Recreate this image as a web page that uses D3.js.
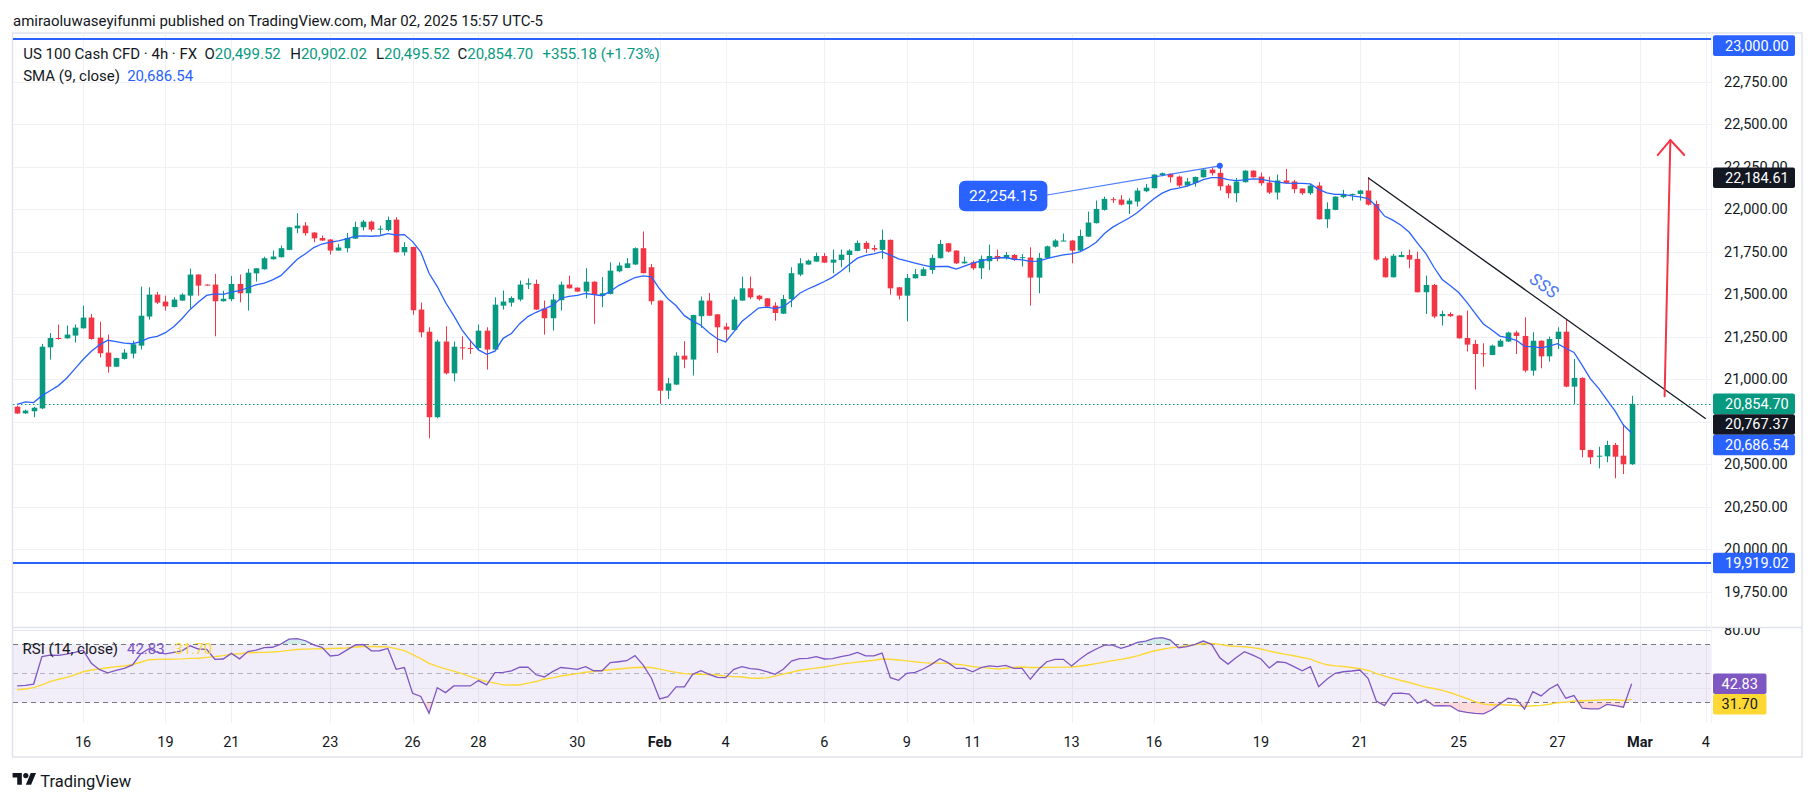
<!DOCTYPE html>
<html><head><meta charset="utf-8">
<script src="https://cdn.jsdelivr.net/npm/d3@7"></script>
<style>
html,body{margin:0;padding:0;background:#fff;}
svg{display:block;font-family:Roboto,"Noto Sans",sans-serif;}
</style></head><body>
<svg id="chart" width="1815" height="802"></svg>
<script>
// ---------------- DATA ----------------
const opens = [20838,20799,20811,20828,21187,21242,21240,21256,21299,21362,21244,21156,21073,21119,21150,21197,21368,21497,21456,21424,21462,21491,21615,21556,21556,21458,21470,21560,21505,21622,21646,21705,21717,21760,21887,21903,21862,21830,21821,21756,21770,21826,21893,21926,21879,21877,21938,21746,21777,21409,21279,20776,21221,21034,21187,21183,21183,21285,21174,21432,21450,21468,21556,21560,21415,21358,21464,21556,21538,21515,21573,
21490,21501,21634,21654,21674,21770,21658,21462,20932,20968,21138,21115,21370,21462,21381,21309,21289,21462,21534,21491,21475,21432,21385,21470,21615,21674,21691,21724,21685,21701,21730,21754,21801,21771,21760,21819,21540,21491,21593,21607,21642,21711,21799,21756,21681,21687,21652,21693,21724,21711,21730,21713,21715,21597,21713,21779,21813,21815,21756,21838,21917,21995,22058,22056,22028,22044,22105,22123,22199,22207,22191,22138,22154,
22187,22232,22213,22138,22093,22158,22226,22191,22156,22097,22168,22162,22121,22093,22138,21940,21995,22070,22085,22089,22109,22030,21711,21599,21718,21730,21707,21511,21554,21370,21383,21374,21242,21207,21152,21142,21191,21221,21274,21254,21050,21226,21134,21236,21279,20956,21007,20583,20544,20546,20613,20550,20499.52];
const highs = [20844,20821,20838,21207,21271,21321,21315,21321,21432,21383,21338,21262,21126,21177,21226,21544,21540,21513,21491,21481,21505,21650,21617,21558,21619,21520,21607,21615,21648,21652,21720,21756,21785,21895,21976,21923,21864,21844,21824,21795,21860,21926,21936,21932,21903,21956,21952,21805,21779,21450,21305,21232,21311,21221,21252,21232,21321,21305,21481,21521,21487,21580,21593,21585,21462,21501,21573,21609,21540,21652,21575,
21600,21687,21687,21711,21775,21868,21677,21464,21007,21158,21223,21379,21485,21507,21383,21330,21485,21603,21603,21495,21477,21452,21495,21658,21711,21703,21744,21742,21762,21762,21764,21815,21811,21789,21879,21821,21542,21619,21648,21658,21732,21819,21801,21758,21720,21697,21727,21791,21762,21748,21736,21736,21775,21742,21785,21823,21856,21819,21879,21985,22050,22073,22070,22083,22064,22124,22148,22205,22215,22209,22197,22183,22191,
22236,22244,22254.15,22148,22183,22228,22228,22215,22191,22203,22236,22172,22123,22148,22158,22040,22075,22113,22091,22113,22187,22050,21721,21736,21750,21762,21750,21609,21560,21403,21393,21376,21403,21230,21211,21203,21236,21279,21285,21364,21276,21228,21250,21305,21348,21119,21011,20585,20603,20638,20625,20736,20902.02];
const lows = [20795,20795,20776,20824,21115,21232,21238,21215,21297,21232,21128,21038,21071,21115,21122,21174,21350,21442,21403,21422,21460,21417,21491,21550,21252,21456,21458,21452,21403,21574,21644,21703,21715,21758,21858,21844,21805,21813,21732,21754,21746,21824,21874,21868,21850,21869,21744,21727,21379,21246,20652,20770,21027,20987,21115,21148,21172,21056,21172,21409,21427,21458,21530,21407,21262,21285,21403,21532,21513,21475,21325,
21423,21499,21628,21652,21672,21621,21438,20854,20883,20966,21064,21021,21301,21371,21154,21225,21287,21460,21471,21462,21424,21344,21383,21423,21605,21672,21689,21683,21623,21658,21628,21752,21742,21750,21707,21497,21468,21340,21591,21605,21619,21709,21744,21677,21679,21642,21589,21642,21693,21703,21695,21662,21432,21505,21711,21774,21811,21681,21754,21836,21915,21991,22036,22021,21971,22015,22099,22121,22193,22156,22128,22132,22132,
22185,22197,22109,22064,22040,22156,22185,22138,22089,22056,22148,22093,22083,22083,21938,21889,21993,22064,22050,22050,22021,21697,21597,21597,21717,21652,21509,21383,21358,21315,21366,21238,21162,20938,21073,21140,21189,21219,21148,21040,21020,21064,21103,21177,20952,20854,20540,20501,20475,20511,20417,20442,20495.52];
const closes = [20798,20815,20832,21191,21242,21236,21262,21303,21362,21236,21152,21073,21124,21156,21205,21373,21497,21450,21428,21468,21497,21615,21550,21552,21458,21473,21560,21505,21626,21652,21711,21721,21770,21893,21903,21858,21828,21815,21756,21774,21830,21895,21926,21879,21885,21936,21746,21777,21405,21275,20776,21221,21034,21191,21181,21179,21285,21174,21438,21456,21477,21556,21564,21409,21358,21468,21556,21534,21515,21573,21495,
21505,21638,21668,21681,21770,21623,21458,20932,20975,21138,21115,21377,21462,21373,21305,21291,21468,21534,21481,21470,21426,21389,21471,21623,21681,21697,21724,21685,21703,21732,21756,21801,21766,21762,21819,21534,21491,21595,21617,21646,21713,21795,21750,21681,21691,21652,21707,21724,21707,21730,21703,21717,21597,21713,21781,21815,21815,21756,21842,21921,22001,22060,22054,22026,22050,22109,22126,22203,22211,22187,22138,22162,22189,
22232,22211,22134,22093,22162,22226,22187,22152,22097,22168,22154,22117,22093,22138,21940,22001,22073,22089,22089,22109,22026,21703,21599,21726,21730,21703,21511,21554,21368,21383,21370,21240,21203,21148,21146,21197,21226,21274,21254,21050,21226,21134,21236,21279,20956,21007,20583,20540,20550,20613,20544,20499.52,20854.70];
// SMA(9) values of the first bars (their history lies left of the chart)
const smaHead = [20852,20866,20862,20903,20932,20962,21005,21060];
const smaLast = 20686.54;
// RSI(14) per bar
const rsi = [41.3,41.7,42.6,61.5,62.6,62.4,63.3,64.5,66.0,57.0,52.5,50.3,52.0,53.4,55.8,63.5,67.0,64.5,63.4,64.5,65.5,69.0,66.8,66.5,59.7,59.9,63.8,60.0,65.0,66.0,67.7,68.0,70.2,73.6,74.0,72.5,69.6,68.0,62.0,62.6,66.0,69.5,69.9,65.5,65.6,67.2,52.8,54.0,36.2,34.0,22.5,40.1,36.7,41.3,41.3,41.3,45.0,42.0,50.5,50.6,51.7,54.2,54.3,49.0,47.5,51.2,54.0,53.4,52.8,54.6,51.8,
51.8,57.4,58.0,58.7,62.2,55.7,46.6,32.3,33.9,40.6,40.6,49.3,51.8,49.3,47.2,47.0,52.8,54.6,53.2,52.8,51.1,49.3,52.8,58.5,60.1,60.3,61.5,59.9,60.1,61.5,62.6,64.5,62.0,62.0,64.0,47.0,45.2,50.0,50.7,53.0,56.2,60.1,57.4,53.4,53.4,51.1,53.9,55.1,54.6,55.5,53.4,53.4,45.9,52.8,58.0,59.7,59.7,55.1,59.7,63.8,66.8,69.5,69.5,67.2,69.0,71.4,72.3,74.1,74.6,73.0,67.7,68.4,70.0,
72.3,70.0,60.8,56.4,61.0,64.9,62.6,59.9,53.7,58.0,57.4,54.6,51.8,54.6,40.8,45.9,50.0,51.1,51.6,52.3,46.6,30.9,27.7,36.2,36.4,35.7,29.3,31.8,27.5,27.7,27.5,24.0,23.1,22.4,22.0,24.7,28.9,32.8,32.1,25.4,37.4,34.4,39.2,42.4,32.8,34.6,25.9,25.4,25.4,28.6,27.7,26.6,42.83];
// RSI-based MA(14) of the first bars
const rsiMaHead = [38.7,39.2,40.1,42.0,44.3,45.9,47.2,48.9,51.1,52.3,53.0,53.9,54.6];
const rsiMaLast = 31.70;
// time axis
const timeLabels = ["16","19","21","23","26","28","30","Feb","4","6","9","11","13","16","19","21","25","27","Mar","4"];
const timeBars   = [8,18,26,38,48,56,68,78,86,98,108,116,128,138,151,163,175,187,197,205];
const boldLabels = ["Feb","Mar"];
// price axis
const priceTicks = [19750,20000,20250,20500,20750,21000,21250,21500,21750,22000,22250,22500,22750];
const levelPrices = [23000, 19919.02];
// drawings
const trendBars = [164, 205];
const trendPrices = [22184.61, 20767.37];
const noteBar = 146, notePrice = 22254.15, noteLabelBar = 119.7, noteLabelPrice = 22077;
const arrowBars = [200, 200.7];
const arrowPrices = [20900, 22406];
const sssBar = 185.3, sssPrice = 21543;
const rsiLevels = [70, 50, 30];
const rsiGrid = [40, 80];

// ---------------- LAYOUT ----------------
const Lft = 13, Rgt = 1711, mTop = 33, mBot = 627, rBot = 723, fRight = 1802, fBot = 757, axX = 1724;
const svg = d3.select("#chart");
const fmt = d3.format(",.2f");
const N = closes.length;
const x = d3.scaleLinear().domain([0, N - 1]).range([17.2, 17.2 + (N - 1) * 8.237]);
const y = d3.scaleLinear().domain([19542.6, 23035.3]).range([mBot, mTop]);
const yr = d3.scaleLinear().domain([15.5, 81.3]).range([723.3, 628]);

const sma = closes.map((c, i) => i < 8 ? smaHead[i] : d3.mean(closes.slice(i - 8, i + 1)));
const rsiMa = rsi.map((v, i) => i < 13 ? rsiMaHead[i] : d3.mean(rsi.slice(i - 13, i + 1)));

const defs = svg.append("defs");
defs.append("clipPath").attr("id", "cm").append("rect").attr("x", Lft).attr("y", mTop).attr("width", Rgt - Lft).attr("height", mBot - mTop);
defs.append("clipPath").attr("id", "cr").append("rect").attr("x", Lft).attr("y", mBot + 1).attr("width", Rgt - Lft).attr("height", rBot - mBot - 1);
defs.append("clipPath").attr("id", "cob").append("rect").attr("x", Lft).attr("y", mBot).attr("width", Rgt - Lft).attr("height", yr(70) - mBot);
defs.append("clipPath").attr("id", "cos").append("rect").attr("x", Lft).attr("y", yr(30)).attr("width", Rgt - Lft).attr("height", rBot - yr(30));
defs.append("clipPath").attr("id", "cax").append("rect").attr("x", Rgt).attr("y", mBot + 1).attr("width", fRight - Rgt).attr("height", rBot - mBot);

// header
svg.append("text").attr("x", 13).attr("y", 25.5).attr("font-size", 15).attr("fill", "#131722")
  .text("amiraoluwaseyifunmi published on TradingView.com, Mar 02, 2025 15:57 UTC-5");

// frame
svg.append("rect").attr("x", 12.5).attr("y", 33).attr("width", fRight - 12.5).attr("height", fBot - 33)
  .attr("fill", "#fff").attr("stroke", "#e0e3eb").attr("stroke-width", 1.5);

// vertical grid
svg.append("g").selectAll("line").data(timeBars).join("line")
  .attr("x1", d => Math.round(x(d)) + 0.5).attr("x2", d => Math.round(x(d)) + 0.5)
  .attr("y1", mTop).attr("y2", rBot).attr("stroke", "#eff1f5").attr("stroke-width", 1);
// horizontal grid (main)
svg.append("g").selectAll("line").data(priceTicks).join("line")
  .attr("x1", Lft).attr("x2", Rgt).attr("y1", d => Math.round(y(d)) + 0.5).attr("y2", d => Math.round(y(d)) + 0.5)
  .attr("stroke", "#eff1f5");

// pane separator + axis separator
svg.append("line").attr("x1", 12.5).attr("x2", fRight).attr("y1", mBot + 0.5).attr("y2", mBot + 0.5).attr("stroke", "#e0e3eb").attr("stroke-width", 1.5);
svg.append("line").attr("x1", Rgt + 0.5).attr("x2", Rgt + 0.5).attr("y1", mTop).attr("y2", rBot).attr("stroke", "#f0f3fa");

// ---- main pane ----
const gm = svg.append("g").attr("clip-path", "url(#cm)");
// level lines
gm.selectAll("line.lv").data(levelPrices).join("line").attr("class", "lv")
  .attr("x1", Lft).attr("x2", Rgt).attr("y1", d => y(d)).attr("y2", d => y(d))
  .attr("stroke", "#2962ff").attr("stroke-width", 2);
// last close dotted line
gm.append("line").attr("x1", Lft).attr("x2", Rgt).attr("y1", Math.round(y(closes[N - 1])) + 0.5).attr("y2", Math.round(y(closes[N - 1])) + 0.5)
  .attr("stroke", "#089981").attr("stroke-dasharray", "1.5,2.5").attr("stroke-width", 1.2);
// candles
const bars = d3.range(N);
const col = i => closes[i] >= opens[i] ? "#089981" : "#f23645";
gm.append("g").selectAll("line").data(bars).join("line")
  .attr("x1", i => Math.round(x(i)) + 0.5).attr("x2", i => Math.round(x(i)) + 0.5)
  .attr("y1", i => y(Math.max(highs[i], opens[i], closes[i]))).attr("y2", i => y(Math.min(lows[i], opens[i], closes[i])))
  .attr("stroke", col).attr("stroke-width", 1);
gm.append("g").selectAll("rect").data(bars).join("rect")
  .attr("x", i => Math.round(x(i)) - 2.3).attr("width", 5.6)
  .attr("y", i => y(Math.max(opens[i], closes[i])))
  .attr("height", i => Math.max(1, Math.abs(y(opens[i]) - y(closes[i]))))
  .attr("fill", col);
// SMA
gm.append("path").datum(bars).attr("fill", "none").attr("stroke", "#2962ff").attr("stroke-width", 1.3)
  .attr("d", d3.line().x(i => x(i)).y(i => y(sma[i])));
// trend line
gm.append("line").attr("x1", x(trendBars[0])).attr("y1", y(trendPrices[0])).attr("x2", x(trendBars[1])).attr("y2", y(trendPrices[1]))
  .attr("stroke", "#131722").attr("stroke-width", 1.3);
// note callout
const nx = x(noteLabelBar), ny = y(noteLabelPrice);
gm.append("line").attr("x1", nx + 44).attr("y1", ny - 1).attr("x2", x(noteBar)).attr("y2", y(notePrice))
  .attr("stroke", "#2962ff").attr("stroke-width", 1.2).attr("opacity", 0.85);
gm.append("circle").attr("cx", x(noteBar)).attr("cy", y(notePrice)).attr("r", 3).attr("fill", "#2962ff");
gm.append("rect").attr("x", nx - 44.2).attr("y", ny - 15.2).attr("width", 88.4).attr("height", 30.4).attr("rx", 6).attr("fill", "#2962ff");
gm.append("text").attr("x", nx).attr("y", ny + 5.5).attr("text-anchor", "middle").attr("font-size", 15.5).attr("fill", "#fff").text(fmt(notePrice));
// SSS text
const ang = Math.atan2(y(trendPrices[1]) - y(trendPrices[0]), x(trendBars[1]) - x(trendBars[0])) * 180 / Math.PI;
gm.append("text").attr("transform", `translate(${x(sssBar)},${y(sssPrice)}) rotate(${ang})`)
  .attr("text-anchor", "middle").attr("dominant-baseline", "middle").attr("font-size", 17).attr("font-style", "italic")
  .attr("letter-spacing", 0.5).attr("fill", "#4a78f5").text("SSS");
// red arrow
const ax1 = x(arrowBars[0]), ay1 = y(arrowPrices[0]), ax2 = x(arrowBars[1]), ay2 = y(arrowPrices[1]);
gm.append("line").attr("x1", ax1).attr("y1", ay1).attr("x2", ax2).attr("y2", ay2).attr("stroke", "#f23645").attr("stroke-width", 2).attr("stroke-linecap", "round");
gm.append("path").attr("d", `M${ax2 - 12.7},${ay2 + 15} L${ax2},${ay2} L${ax2 + 13.9},${ay2 + 15}`)
  .attr("fill", "none").attr("stroke", "#f23645").attr("stroke-width", 2).attr("stroke-linecap", "round").attr("stroke-linejoin", "round");

// legends
const lg = svg.append("g").attr("font-size", 15);
const ohlc = lg.append("text").attr("y", 58.5).attr("fill", "#131722");
ohlc.append("tspan").attr("x", 23.2).text("US 100 Cash CFD · 4h · FX");
const lab = [["O", opens[N - 1], 204.5], ["H", highs[N - 1], 290.2], ["L", lows[N - 1], 375.9], ["C", closes[N - 1], 457.6]];
lab.forEach(([k, v, px]) => {
  ohlc.append("tspan").attr("x", px).attr("fill", "#131722").text(k);
  ohlc.append("tspan").attr("fill", "#089981").text(fmt(v));
});
const chg = closes[N - 1] - opens[N - 1];
ohlc.append("tspan").attr("x", 542.4).attr("fill", "#089981").text(`+${fmt(chg)} (+${(chg / opens[N - 1] * 100).toFixed(2)}%)`);
const sl = lg.append("text").attr("y", 80.5).attr("fill", "#131722");
sl.append("tspan").attr("x", 23.2).text("SMA (9, close)");
sl.append("tspan").attr("x", 127.2).attr("fill", "#2962ff").text(fmt(smaLast));

// price axis labels
svg.append("g").selectAll("text").data(priceTicks).join("text")
  .attr("x", axX).attr("y", d => y(d) + 5).attr("font-size", 14.5).attr("fill", "#131722").text(d => fmt(d));

// badges
const badgeH = 20.6;
function badges(list, w, top) {
  list.sort((a, b) => a.yy - b.yy);
  let prev = top;
  list.forEach(b => {
    let t = Math.max(b.yy - badgeH / 2, prev);
    b.t = t; prev = t + badgeH;
  });
  const g = svg.append("g");
  list.forEach(b => {
    g.append("rect").attr("x", 1713).attr("y", b.t).attr("width", w).attr("height", badgeH).attr("rx", 2).attr("fill", b.bg);
    g.append("text").attr("x", axX + 1).attr("y", b.t + badgeH / 2 + 5).attr("font-size", 14.5).attr("fill", b.fg).text(b.txt);
  });
}
badges([
  {yy: y(levelPrices[0]), bg: "#2962ff", fg: "#fff", txt: fmt(levelPrices[0])},
  {yy: y(trendPrices[0]), bg: "#131722", fg: "#fff", txt: fmt(trendPrices[0])},
  {yy: y(closes[N - 1]), bg: "#089981", fg: "#fff", txt: fmt(closes[N - 1])},
  {yy: y(trendPrices[1]), bg: "#131722", fg: "#fff", txt: fmt(trendPrices[1])},
  {yy: y(smaLast), bg: "#2962ff", fg: "#fff", txt: fmt(smaLast)},
  {yy: y(levelPrices[1]), bg: "#2962ff", fg: "#fff", txt: fmt(levelPrices[1])}
], 82, mTop + 2.3);

// ---- RSI pane ----
const gr = svg.append("g").attr("clip-path", "url(#cr)");
gr.append("rect").attr("x", Lft).attr("width", Rgt - Lft).attr("y", yr(70)).attr("height", yr(30) - yr(70)).attr("fill", "rgba(126,87,194,0.1)");
gr.selectAll("line.g").data(rsiGrid).join("line").attr("class", "g")
  .attr("x1", Lft).attr("x2", Rgt).attr("y1", d => Math.round(yr(d)) + 0.5).attr("y2", d => Math.round(yr(d)) + 0.5).attr("stroke", "#e6e3ef");
gr.selectAll("line.lv").data(rsiLevels).join("line").attr("class", "lv")
  .attr("x1", Lft).attr("x2", Rgt).attr("y1", d => Math.round(yr(d)) + 0.5).attr("y2", d => Math.round(yr(d)) + 0.5)
  .attr("stroke", d => d === 50 ? "rgba(120,123,134,0.5)" : "#787b86").attr("stroke-dasharray", "5,4").attr("stroke-width", 1);
const ob = d3.area().x(i => x(i)).y0(yr(70)).y1(i => yr(rsi[i]));
gr.append("path").datum(bars).attr("clip-path", "url(#cob)").attr("fill", "rgba(8,153,129,0.18)").attr("d", ob);
const os = d3.area().x(i => x(i)).y0(yr(30)).y1(i => yr(rsi[i]));
gr.append("path").datum(bars).attr("clip-path", "url(#cos)").attr("fill", "rgba(242,54,69,0.18)").attr("d", os);
gr.append("path").datum(bars).attr("fill", "none").attr("stroke", "#fdd835").attr("stroke-width", 1.4)
  .attr("d", d3.line().x(i => x(i)).y(i => yr(rsiMa[i])));
gr.append("path").datum(bars).attr("fill", "none").attr("stroke", "#7e57c2").attr("stroke-width", 1.3)
  .attr("d", d3.line().x(i => x(i)).y(i => yr(rsi[i])));

// RSI legend
const rl = svg.append("text").attr("y", 653.5).attr("font-size", 15);
rl.append("tspan").attr("x", 22.5).attr("fill", "#131722").text("RSI (14, close)");
rl.append("tspan").attr("x", 127).attr("fill", "#7e57c2").text(rsi[N - 1].toFixed(2));
rl.append("tspan").attr("x", 174.5).attr("fill", "#fdd835").text(rsiMaLast.toFixed(2));

// RSI axis
svg.append("text").attr("clip-path", "url(#cax)").attr("x", axX).attr("y", yr(80) + 5).attr("font-size", 14.5).attr("fill", "#131722").text(fmt(80));
(function () {
  const list = [{yy: yr(rsi[N - 1]), bg: "#7e57c2", fg: "#fff", txt: rsi[N - 1].toFixed(2)},
                {yy: yr(rsiMaLast), bg: "#fdd835", fg: "#131722", txt: rsiMaLast.toFixed(2)}];
  list.sort((a, b) => a.yy - b.yy);
  let prev = mBot;
  list.forEach(b => {
    const t = Math.max(b.yy - badgeH / 2, prev); prev = t + badgeH;
    svg.append("rect").attr("x", 1713).attr("y", t).attr("width", 53.5).attr("height", badgeH).attr("rx", 2).attr("fill", b.bg);
    svg.append("text").attr("x", 1739.7).attr("y", t + badgeH / 2 + 5).attr("text-anchor", "middle").attr("font-size", 14.5).attr("fill", b.fg).text(b.txt);
  });
})();

// time axis
svg.append("g").selectAll("text").data(timeBars).join("text")
  .attr("x", d => x(d)).attr("y", 746.5).attr("text-anchor", "middle").attr("font-size", 14.5)
  .attr("font-weight", (d, i) => boldLabels.includes(timeLabels[i]) ? 700 : 400)
  .attr("fill", "#131722").text((d, i) => timeLabels[i]);

// TradingView logo
const logo = svg.append("g").attr("transform", "translate(12.6,770.3) scale(0.66)").attr("fill", "#131722");
logo.append("path").attr("d", "M14 22H7V11H0V4h14v18zM28 22h-8l7.5-18h8L28 22z");
logo.append("circle").attr("cx", 20).attr("cy", 8).attr("r", 4);
svg.append("text").attr("x", 40.2).attr("y", 786.8).attr("font-size", 16.5).attr("fill", "#131722").text("TradingView");
</script>
</body></html>
